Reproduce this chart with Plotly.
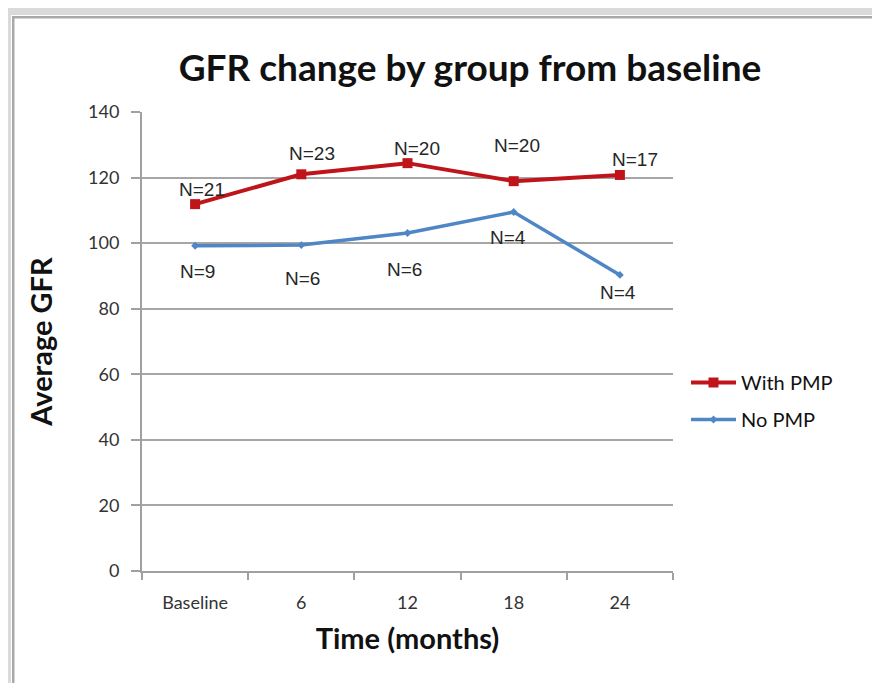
import plotly.graph_objects as go

# ---- data ----
categories = ["Baseline", "6", "12", "18", "24"]
with_pmp = [111.9, 121.0, 124.4, 118.9, 120.8]
no_pmp = [99.2, 99.4, 103.1, 109.5, 90.3]
with_pmp_n = ["N=21", "N=23", "N=20", "N=20", "N=17"]
no_pmp_n = ["N=9", "N=6", "N=6", "N=4", "N=4"]
y_ticks = [0, 20, 40, 60, 80, 100, 120, 140]

# ---- geometry (page pixels; the page body adds an 8px offset) ----
OFF = 8
W, H = 880 - OFF, 683 - OFF
L, R, T, B = 142 - OFF, 673 - OFF, 112 - OFF, 571 - OFF
pw, ph = R - L, B - T


def px(x):
    return (x - OFF - L) / pw


def py(y):
    return (B - (y - OFF)) / ph


RED = "#c0141b"
BLUE = "#4f86c6"
CAL = "Lato, 'Open Sans', sans-serif"
ARIAL = "'Liberation Sans', Arial, sans-serif"

fig = go.Figure()
fig.add_trace(go.Scatter(
    x=categories, y=with_pmp, name="With PMP", mode="lines+markers",
    line=dict(color=RED, width=4), marker=dict(symbol="square", size=10, color=RED),
    legendgroup="a"))
fig.add_trace(go.Scatter(
    x=categories, y=no_pmp, name="No PMP", mode="lines+markers",
    line=dict(color=BLUE, width=3.5), marker=dict(symbol="diamond", size=6, color=BLUE),
    legendgroup="b"))

# data labels (offsets in px relative to points)
red_off = [(7, 15), (11, 21), (9, 15), (3, 36), (15, 15)]
blue_off = [(2, -26), (1, -33), (-3, -37), (-6, -25), (-2, -18)]
for i, (v, t, (dx, dy)) in enumerate(zip(with_pmp, with_pmp_n, red_off)):
    fig.add_annotation(x=i, y=v, text=t, showarrow=False, xshift=dx, yshift=dy,
                       font=dict(family=ARIAL, size=19, color="#262626"))
for i, (v, t, (dx, dy)) in enumerate(zip(no_pmp, no_pmp_n, blue_off)):
    fig.add_annotation(x=i, y=v, text=t, showarrow=False, xshift=dx, yshift=dy,
                       font=dict(family=ARIAL, size=19, color="#262626"))

# page frame
shapes = [
    dict(type="rect", xref="paper", yref="paper", x0=px(8), x1=px(11), y0=py(683), y1=py(8),
         fillcolor="#dadada", line=dict(width=0), layer="above"),
    dict(type="rect", xref="paper", yref="paper", x0=px(8), x1=px(880), y0=py(15), y1=py(8),
         fillcolor="#dadada", line=dict(width=0), layer="above"),
    dict(type="rect", xref="paper", yref="paper", x0=px(12), x1=px(14.5), y0=py(683), y1=py(16),
         fillcolor="#a9a9a9", line=dict(width=0), layer="above"),
    dict(type="rect", xref="paper", yref="paper", x0=px(12), x1=px(880), y0=py(18.5), y1=py(16),
         fillcolor="#a9a9a9", line=dict(width=0), layer="above"),
]

fig.update_layout(
    width=W, height=H,
    margin=dict(l=L, r=W - R, t=T, b=H - B),
    paper_bgcolor="white", plot_bgcolor="white",
    shapes=shapes,
    title=dict(text="<b>GFR change by group from baseline</b>", x=(470 - OFF) / W, xref="container",
               xanchor="center", y=1 - (68 - OFF) / H, yanchor="middle", yref="container",
               font=dict(family=CAL, size=37, color="#111111")),
    xaxis=dict(type="category", range=[-0.5, len(categories) - 0.5], autorange=False,
               showgrid=False, showline=True, linecolor="#a0a0a0", linewidth=2,
               ticks="outside", tickson="boundaries", ticklen=7, tickcolor="#a0a0a0", tickwidth=2,
               tickangle=0, ticklabelstandoff=14,
               tickfont=dict(family=CAL, size=18, color="#333333"),
               title=dict(text="<b>Time (months)</b>", standoff=17,
                          font=dict(family=CAL, size=29, color="#111111"))),
    yaxis=dict(range=[0, 140], autorange=False, tickvals=y_ticks, showgrid=True,
               gridcolor="#a6a6a6", gridwidth=1.5,
               showline=True, linecolor="#a0a0a0", linewidth=2, zeroline=False,
               ticks="outside", ticklen=9, tickcolor="#a0a0a0", tickwidth=2,
               ticklabelstandoff=8,
               tickfont=dict(family=CAL, size=18, color="#333333"),
               title=dict(text="<b>Average GFR</b>", standoff=27,
                          font=dict(family=CAL, size=29, color="#111111"))),
    legend=dict(x=px(686), y=py(363), xanchor="left", yanchor="top",
                font=dict(family=CAL, size=20, color="#111111"), itemwidth=45,
                tracegroupgap=8, traceorder="grouped", bgcolor="rgba(0,0,0,0)"),
)

fig.write_html("out.html")
